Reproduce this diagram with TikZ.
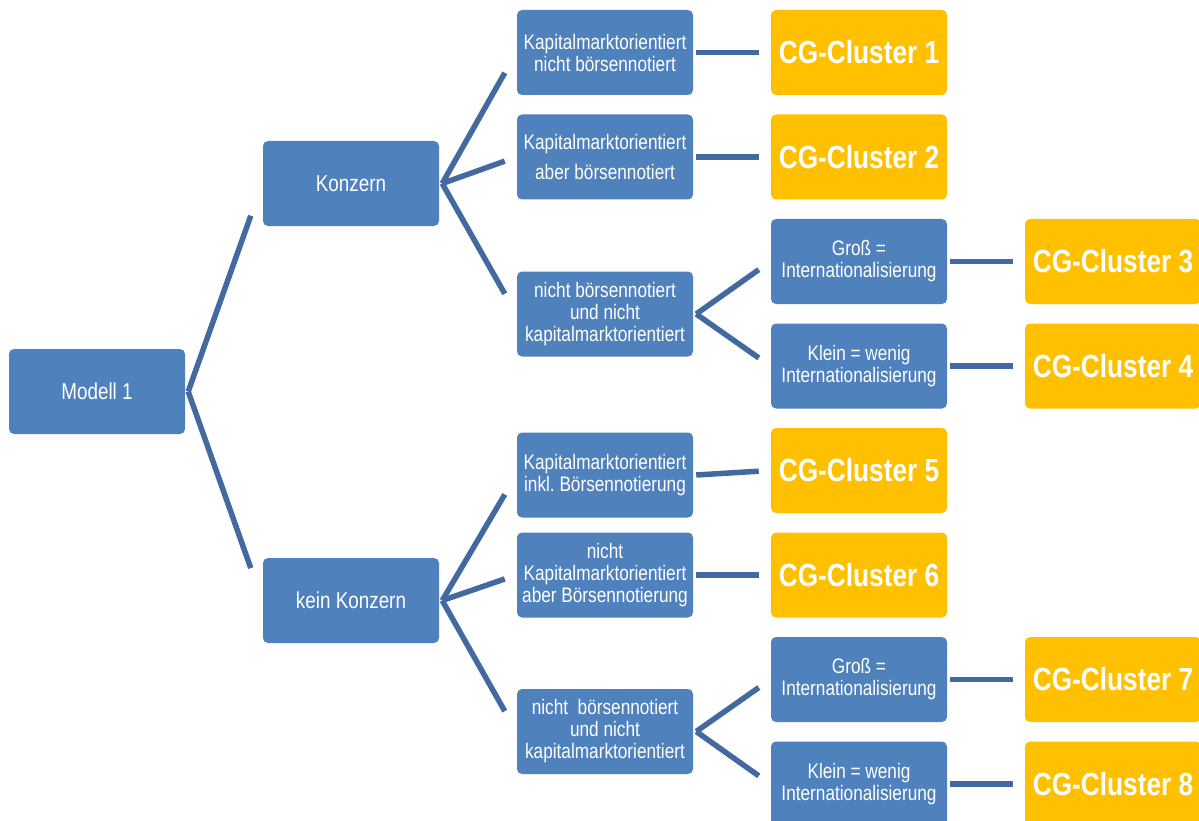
\documentclass[tikz,border=0pt]{standalone}
\usepackage{fontspec}
\setmainfont{Liberation Sans}[FakeStretch=0.82]
\usetikzlibrary{calc}
\usepackage{xcolor}
\definecolor{boxblau}{RGB}{79,129,189}
\definecolor{linienblau}{RGB}{66,106,160}
\definecolor{clustergelb}{RGB}{255,192,0}

\begin{document}
\begin{tikzpicture}[x=1pt,y=-1pt,
  kasten/.style={rectangle, rounded corners=5pt, fill=boxblau, text=white, minimum width=176pt, minimum height=85pt, inner sep=2pt, align=center, font=\fontsize{21}{22}\selectfont},
  gross/.style={kasten, font=\fontsize{23}{25}\selectfont},
  cluster/.style={kasten, fill=clustergelb, font=\fontsize{32}{34}\selectfont\bfseries},
  ast/.style={draw=linienblau, line width=5.5pt}]

\useasboundingbox (0,0) rectangle (1199,821);
\clip (0,0) rectangle (1199,821);

%Ebene 1 und 2
\node[gross] (modell) at (97,391.5) {Modell 1};
\node[gross] (konzern) at (351,183.5) {Konzern};
\node[gross] (kein) at (351,600.5) {kein Konzern};

%Ebene 3
\node[kasten] (km1) at (605,52.5) {Kapitalmarktorientiert\\nicht börsennotiert};
\node[kasten] (km2) at (605,157) {Kapitalmarktorientiert\\[8pt]aber börsennotiert};
\node[kasten] (km3) at (605,314) {nicht börsennotiert\\und nicht\\kapitalmarktorientiert};
\node[kasten] (km4) at (605,475) {Kapitalmarktorientiert\\inkl.\ Börsennotierung};
\node[kasten] (km5) at (605,575) {nicht\\Kapitalmarktorientiert\\aber Börsennotierung};
\node[kasten] (km6) at (605,731.5) {nicht\ \ börsennotiert\\und nicht\\kapitalmarktorientiert};

%Ebene 4 (Groesse)
\node[kasten] (gross1) at (859,261.5) {Groß =\\Internationalisierung};
\node[kasten] (klein1) at (859,366) {Klein = wenig\\Internationalisierung};
\node[kasten] (gross2) at (859,679.5) {Groß =\\Internationalisierung};
\node[kasten] (klein2) at (859,784) {Klein = wenig\\Internationalisierung};

%Cluster
\node[cluster] (cg1) at (859,52.5) {CG-Cluster 1};
\node[cluster] (cg2) at (859,157) {CG-Cluster 2};
\node[cluster] (cg3) at (1113,261.5) {CG-Cluster 3};
\node[cluster] (cg4) at (1113,366) {CG-Cluster 4};
\node[cluster] (cg5) at (859,470.5) {CG-Cluster 5};
\node[cluster] (cg6) at (859,575) {CG-Cluster 6};
\node[cluster] (cg7) at (1113,679.5) {CG-Cluster 7};
\node[cluster] (cg8) at (1113,784) {CG-Cluster 8};

%Verbindungen
\foreach \von/\nach in {modell/konzern, modell/kein,
  konzern/km1, konzern/km2, konzern/km3, kein/km4, kein/km5, kein/km6,
  km1/cg1, km2/cg2, km4/cg5, km5/cg6,
  km3/gross1, km3/klein1, km6/gross2, km6/klein2,
  gross1/cg3, klein1/cg4, gross2/cg7, klein2/cg8}
  \draw[ast] ([xshift=3pt]\von.east) -- ($(\von.east)!0.845!(\nach.west)$);

\end{tikzpicture}
\end{document}
